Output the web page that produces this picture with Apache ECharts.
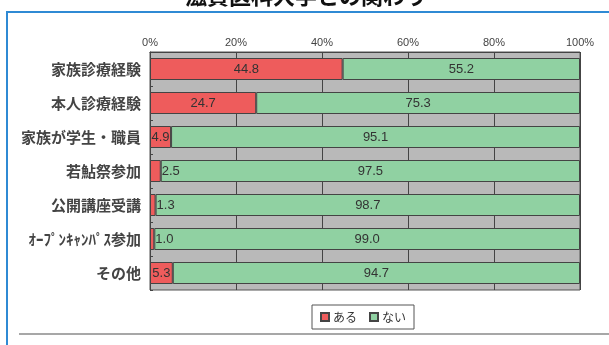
<!DOCTYPE html>
<html>
<head>
<meta charset="utf-8">
<script src="https://cdn.jsdelivr.net/npm/echarts@6/dist/echarts.min.js"></script>
<style>
html,body{margin:0;padding:0;background:#fff;}
#c{width:609px;height:345px;}
</style>
</head>
<body>
<div id="c"></div>
<script>
const categories = ['家族診療経験','本人診療経験','家族が学生・職員','若鮎祭参加','公開講座受講','ｵｰﾌﾟﾝｷｬﾝﾊﾟｽ参加','その他'];
const aruValues = [44.8, 24.7, 4.9, 2.5, 1.3, 1.0, 5.3];
const naiValues = [55.2, 75.3, 95.1, 97.5, 98.7, 99.0, 94.7];
const seriesNames = ['ある','ない'];
const titleText = '滋賀医科大学との関わり';

const JP = '"Noto Sans CJK JP", "Noto Sans", sans-serif';
const chart = echarts.init(document.getElementById('c'));

const aruData = aruValues.map(v => ({
  value: v,
  label: { position: v < 4 ? 'right' : 'inside', distance: 1 }
}));

chart.setOption({
  animation: false,
  backgroundColor: '#fff',
  textStyle: { fontFamily: JP },
  graphic: [
    { type: 'text', left: 185, top: -15, style: { text: titleText, font: 'bold 22px ' + JP, fill: '#111' } },
    { type: 'rect', shape: { x: 7, y: 12, width: 620, height: 360 }, style: { fill: 'none', stroke: '#2f8ad4', lineWidth: 2 } },
    { type: 'line', shape: { x1: 19, y1: 334, x2: 609, y2: 334 }, style: { stroke: '#8a8a8a', lineWidth: 1.5 } }
  ],
  grid: {
    left: 150, right: 29, top: 52, height: 238,
    show: true, backgroundColor: '#b9b9b9', borderColor: '#555', borderWidth: 1
  },
  legend: {
    data: seriesNames,
    left: 312, top: 305,
    width: 104, height: 25,
    padding: [6, 8],
    borderColor: '#555', borderWidth: 1,
    itemWidth: 8, itemHeight: 8, itemGap: 12,
    icon: 'rect',
    textStyle: { fontSize: 12, color: '#333', fontFamily: JP, padding: [0, 0, 0, -1] }
  },
  xAxis: {
    type: 'value', position: 'top', min: 0, max: 100, interval: 20,
    axisLine: { show: true, lineStyle: { color: '#444' } },
    axisTick: { show: false },
    axisLabel: { formatter: '{value}%', fontSize: 11, color: '#444', margin: 4, fontFamily: 'Liberation Sans Narrow, Liberation Sans, Arial, sans-serif' },
    splitLine: { show: true, lineStyle: { color: '#444', width: 1 } }
  },
  yAxis: {
    type: 'category', inverse: true, data: categories,
    axisLine: { show: true, lineStyle: { color: '#444' } },
    axisTick: { show: true, inside: true, length: 3, lineStyle: { color: '#444' } },
    axisLabel: { fontSize: 15, fontWeight: 'bold', color: '#444', margin: 9, fontFamily: JP }
  },
  series: [
    {
      name: seriesNames[0], type: 'bar', stack: 's', barWidth: 22,
      data: aruData,
      itemStyle: { color: '#ee5c5c', borderColor: '#444', borderWidth: 1 },
      label: { show: true, color: '#333', fontSize: 13, fontFamily: 'Liberation Sans Narrow, Liberation Sans, Arial, sans-serif', formatter: p => p.value.toFixed(1) }
    },
    {
      name: seriesNames[1], type: 'bar', stack: 's', barWidth: 22,
      data: naiValues,
      itemStyle: { color: '#90d1a2', borderColor: '#444', borderWidth: 1 },
      label: { show: true, position: 'inside', color: '#333', fontSize: 13, fontFamily: 'Liberation Sans Narrow, Liberation Sans, Arial, sans-serif', formatter: p => p.value.toFixed(1) }
    }
  ]
});
</script>
</body>
</html>
